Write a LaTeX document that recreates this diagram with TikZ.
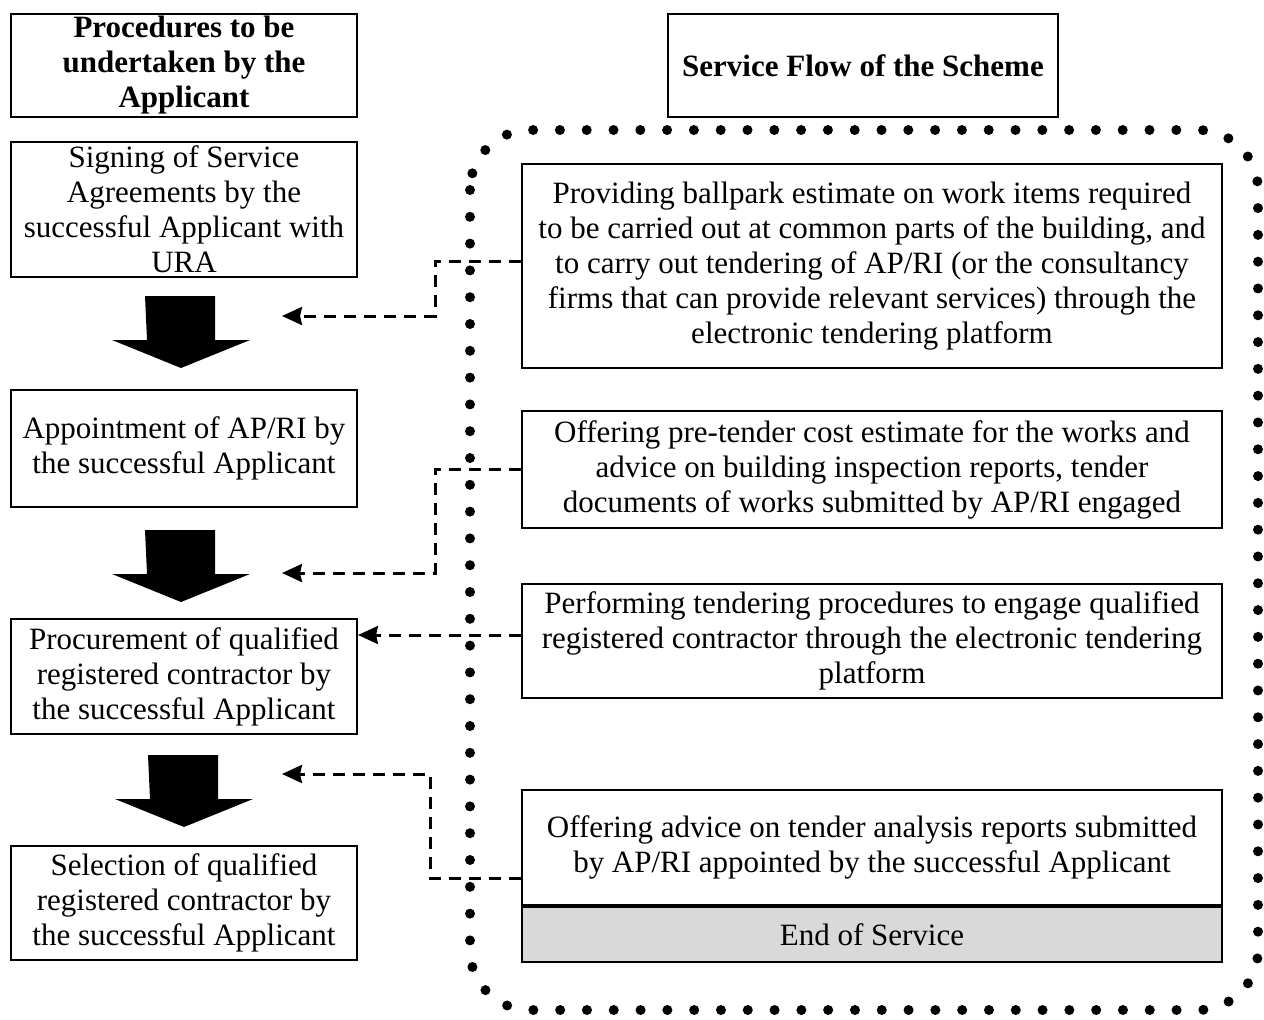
\documentclass[tikz,border=0pt]{standalone}
\usepackage{fontspec}
\setmainfont{Liberation Serif}
\usepackage{tikz}
\usepackage{xcolor}
\usetikzlibrary{calc,
	positioning,
	arrows.meta}

\definecolor{endgray}{HTML}{D9D9D9}
\tikzset{
	box/.style={draw, line width=1pt, align=center, inner sep=0pt, font=\fontsize{15.5}{17.5}\selectfont},
	leftbox/.style={box, minimum width=173pt},
	rightbox/.style={box, minimum width=350pt},
	headbox/.style={box, font=\bfseries\fontsize{15.5}{17.5}\selectfont},
	link/.style={line width=1.5pt, dash pattern=on 6pt off 4pt, -{Stealth[length=10pt, width=9pt, inset=1pt]}},
	blockarrow/.style={fill=black, draw=none}
}

\begin{document}
\begin{tikzpicture}[x=0.5pt, y=-0.5pt]
	\useasboundingbox (0, 0) rectangle (1264, 1019);
	% headers
	\node[headbox, minimum width=173pt, minimum height=51.5pt] (hdrL) at (184, 65.5) {Procedures to be\\undertaken by the\\Applicant};
	\node[headbox, minimum width=195pt, minimum height=51.5pt] (hdrR) at (863, 65.5) {Service Flow of the Scheme};
	% applicant side
	\node[leftbox, minimum height=67.5pt] (sign) at (184, 209.5) {Signing of Service\\Agreements by the\\successful Applicant with\\URA};
	\node[leftbox, minimum height=58.5pt] (appoint) at (184, 448.5) {Appointment of AP/RI by\\the successful Applicant};
	\node[leftbox, minimum height=57.5pt] (procure) at (184, 676.5) {Procurement of qualified\\registered contractor by\\the successful Applicant};
	\node[leftbox, minimum height=57pt] (select) at (184, 903) {Selection of qualified\\registered contractor by\\the successful Applicant};
	% scheme side
	\draw[line width=5pt, line cap=round, dash pattern=on 0pt off 13.4pt, rounded corners=30pt] (470, 130) rectangle (1258, 1010);
	\node[rightbox, minimum height=102pt] (ballpark) at (872, 266) {Providing ballpark estimate on work items required\\to be carried out at common parts of the building, and\\to carry out tendering of AP/RI (or the consultancy\\firms that can provide relevant services) through the\\electronic tendering platform};
	\node[rightbox, minimum height=58.5pt] (pretender) at (872, 469.5) {Offering pre-tender cost estimate for the works and\\advice on building inspection reports, tender\\documents of works submitted by AP/RI engaged};
	\node[rightbox, minimum height=57pt] (perform) at (872, 641) {Performing tendering procedures to engage qualified\\registered contractor through the electronic tendering\\platform};
	\node[rightbox, minimum height=57.5pt] (analysis) at (872, 847.5) {Offering advice on tender analysis reports submitted\\by AP/RI appointed by the successful Applicant};
	\node[rightbox, fill=endgray, minimum height=27.5pt, below=0pt of analysis] (endsvc) {End of Service};
	% block arrows
	\foreach \xa/\ya in {145/296, 145/530, 148/755}
		\fill[blockarrow] (\xa, \ya) -- ++(70, 0) -- ++(0, 44) -- ++(35, 0) -- ++(-69, 28) -- ++(-69, -28) -- ++(35, 0) -- cycle;
	% dashed links
	\coordinate (t1) at (282, 316);
	\coordinate (t2) at (282, 573);
	\coordinate (t4) at (282, 774);
	\draw[link] (ballpark.west |- 0, 261) -| (435, 316) -- (t1);
	\draw[link] (pretender.west |- 0, 469) -| (435, 573) -- (t2);
	\draw[link] (perform.west |- 0, 635) -- (procure.east |- 0, 635);
	\draw[link] (analysis.west |- 0, 878) -| (430, 774) -- (t4);
\end{tikzpicture}
\end{document}
